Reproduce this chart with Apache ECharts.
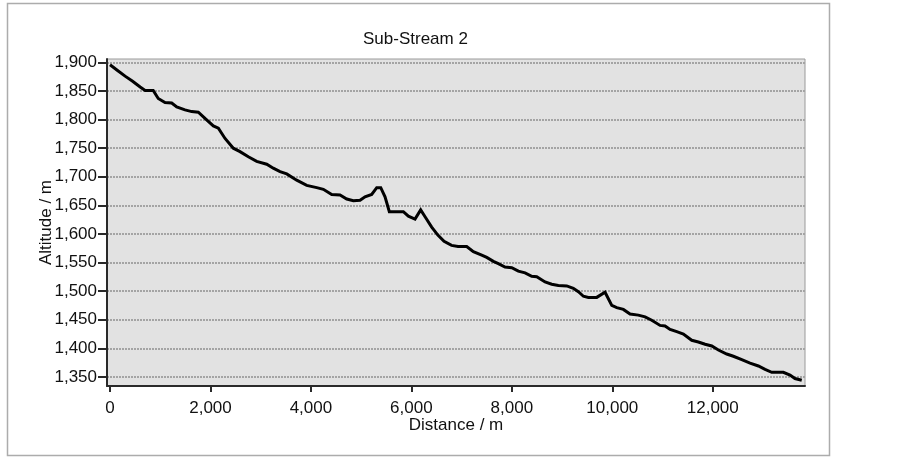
<!DOCTYPE html>
<html>
<head>
<meta charset="utf-8">
<script src="https://cdn.jsdelivr.net/npm/echarts@6/dist/echarts.min.js"></script>
<style>
html,body{margin:0;padding:0;background:#fff;}
#chart{width:903px;height:458px;}
</style>
</head>
<body>
<div id="chart"></div>
<script>
const titleText = 'Sub-Stream 2';
const xName = 'Distance / m';
const yName = 'Altitude / m';
const distance = [0, 150, 300, 450, 600, 700, 860, 960, 1095, 1228, 1328, 1493, 1626, 1758, 1891, 2057, 2157, 2290, 2455, 2588, 2754, 2920, 3120, 3250, 3385, 3518, 3717, 3916, 4115, 4247, 4414, 4579, 4713, 4844, 4978, 5077, 5210, 5310, 5390, 5475, 5561, 5674, 5840, 5940, 6072, 6185, 6272, 6404, 6527, 6650, 6800, 6929, 7101, 7234, 7400, 7500, 7632, 7731, 7864, 7998, 8129, 8263, 8396, 8495, 8661, 8794, 8926, 9093, 9224, 9324, 9424, 9523, 9690, 9855, 9989, 10088, 10220, 10353, 10518, 10652, 10785, 10951, 11050, 11150, 11283, 11415, 11581, 11713, 11847, 11980, 12112, 12278, 12410, 12577, 12742, 12908, 13041, 13174, 13405, 13538, 13636, 13771];
const altitude = [1896, 1886, 1876, 1867, 1857, 1851, 1851, 1837, 1830, 1829, 1822, 1817, 1814, 1813, 1802, 1789, 1785, 1767, 1750, 1744, 1735, 1727, 1722, 1715, 1709, 1705, 1694, 1685, 1681, 1678, 1669, 1668, 1661, 1658, 1659, 1665, 1669, 1681, 1681, 1665, 1639, 1639, 1639, 1631, 1626, 1642, 1630, 1612, 1598, 1587, 1580, 1578, 1578, 1569, 1563, 1559, 1552, 1548, 1542, 1541, 1535, 1532, 1526, 1525, 1516, 1512, 1510, 1509, 1505, 1499, 1491, 1489, 1489, 1498, 1475, 1471, 1468, 1460, 1458, 1455, 1449, 1440, 1439, 1433, 1429, 1425, 1414, 1411, 1407, 1404, 1397, 1390, 1386, 1380, 1374, 1369, 1363, 1358, 1358, 1353, 1347, 1344];
const xTicks = [0, 2000, 4000, 6000, 8000, 10000, 12000];
const yTicks = [1350, 1400, 1450, 1500, 1550, 1600, 1650, 1700, 1750, 1800, 1850, 1900];

const fmt = v => Math.round(v).toLocaleString('en-US');
const font = '"Liberation Sans", Arial, sans-serif';
const chart = echarts.init(document.getElementById('chart'), null, {renderer: 'canvas'});
chart.setOption({
  animation: false,
  backgroundColor: '#ffffff',
  graphic: [{
    type: 'rect', shape: {x: 7.5, y: 3.5, width: 822, height: 452},
    style: {fill: 'none', stroke: '#acacac', lineWidth: 1.5}, z: -1
  }],
  title: {
    text: titleText, left: 358, top: 26,
    textStyle: {fontFamily: font, fontSize: 17, fontWeight: 'normal', color: '#111'}
  },
  grid: {
    left: 107, right: 98, top: 59, bottom: 72,
    show: true, backgroundColor: '#e2e2e2', borderColor: '#9a9a9a', borderWidth: 1
  },
  xAxis: {
    type: 'value', min: -60, max: 13836,
    name: xName, nameLocation: 'middle', nameGap: 31, nameMoveOverlap: false,
    nameTextStyle: {fontFamily: font, fontSize: 17, color: '#111', verticalAlign: 'top'},
    axisLine: {show: true, onZero: false, lineStyle: {color: '#2a2a2a', width: 2}},
    axisTick: {show: true, length: 6, customValues: xTicks, lineStyle: {color: '#2a2a2a', width: 2}},
    axisLabel: {customValues: xTicks, formatter: fmt, margin: 14, fontFamily: font, fontSize: 17, color: '#111'},
    splitLine: {show: false}
  },
  yAxis: {
    type: 'value', min: 1334, max: 1906,
    name: yName, nameLocation: 'middle', nameGap: 52, nameRotate: 90, nameMoveOverlap: false,
    nameTextStyle: {fontFamily: font, fontSize: 17, color: '#111'},
    axisLine: {show: true, onZero: false, lineStyle: {color: '#2a2a2a', width: 2}},
    axisTick: {show: true, length: 9, customValues: yTicks, lineStyle: {color: '#2a2a2a', width: 2}},
    axisLabel: {customValues: yTicks, formatter: fmt, margin: 10, fontFamily: font, fontSize: 17, color: '#111'},
    splitLine: {show: true, lineStyle: {color: '#a4a4a4', width: 2, type: [2, 1]}}
  },
  series: [{
    type: 'line',
    data: distance.map((d, i) => [d, altitude[i]]),
    showSymbol: false,
    lineStyle: {color: '#000', width: 3, join: 'miter'},
    z: 5
  }]
});
</script>
</body>
</html>
